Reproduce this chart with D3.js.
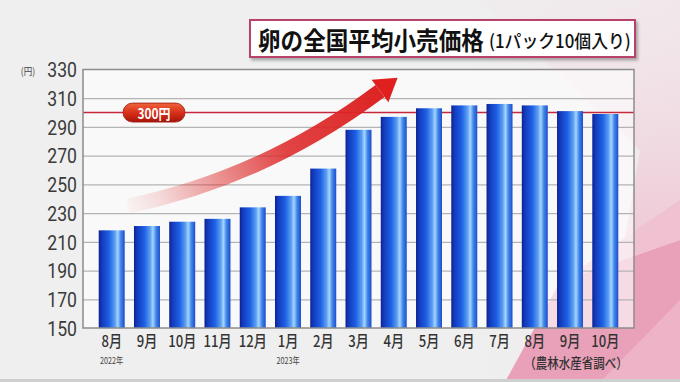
<!DOCTYPE html>
<html><head><meta charset="utf-8">
<script src="https://cdn.jsdelivr.net/npm/d3@7"></script>
<style>
html,body{margin:0;padding:0;background:#eeeeee;}
svg{display:block;}
</style></head>
<body>
<svg id="chart" width="680" height="382"></svg>
<script>
// ---- data ----
const categories = ["8月","9月","10月","11月","12月","1月","2月","3月","4月","5月","6月","7月","8月","9月","10月"];
const values = [218,221,224,226,234,242,261,288,297,303,305,306,305,301,299];
const yTicks = [150,170,190,210,230,250,270,290,310,330];
const yearIdx = [0,5];
const yearText = ["2022年","2023年"];
const refValue = 300;
const refLabel = "300円";
const titleMain = "卵の全国平均小売価格";
const titleSub = "(1パック10個入り)";
const unitLabel = "(円)";
const sourceLabel = "（農林水産省調べ）";

const W = 680, H = 382;
const L = 83, R = 634, T = 69.5, B = 328;
const svg = d3.select("#chart");
const defs = svg.append("defs");

function condense(sel, f){
  sel.each(function(){
    const w = this.getComputedTextLength();
    this.setAttribute("textLength", w*f);
    this.setAttribute("lengthAdjust","spacingAndGlyphs");
  });
}
// squeeze a text (placed at 0,0 inside a group) to a target width via transform
function squeezeText(x0, yc, target, size, weight, str){
  const g = svg.append("g");
  const t = g.append("text").attr("x",0).attr("y",0).attr("dominant-baseline","central")
    .attr("font-family","'Noto Sans CJK JP', sans-serif").attr("font-weight",weight)
    .attr("font-size",size).attr("fill","#111").text(str);
  const w = t.node().getComputedTextLength();
  g.attr("transform",`translate(${x0},${yc}) scale(${target/w},1)`);
  return g;
}

// ---- background ----
const bgG = defs.append("linearGradient").attr("id","bgG").attr("x1",0).attr("y1",0).attr("x2",1).attr("y2",0);
bgG.append("stop").attr("offset","0").attr("stop-color","#efefef");
bgG.append("stop").attr("offset","0.7").attr("stop-color","#efefef");
bgG.append("stop").attr("offset","1").attr("stop-color","#f1e8eb");
svg.append("rect").attr("width",W).attr("height",H).attr("fill","url(#bgG)");

const pinkV = defs.append("linearGradient").attr("id","pinkV").attr("x1",0).attr("y1",0).attr("x2",0).attr("y2",1);
pinkV.append("stop").attr("offset","0").attr("stop-color","#f2e6ea").attr("stop-opacity",0.3);
pinkV.append("stop").attr("offset","0.45").attr("stop-color","#efcad7").attr("stop-opacity",0.8);
pinkV.append("stop").attr("offset","1").attr("stop-color","#e99ab4");
svg.append("polygon").attr("points","480,0 680,0 680,382 600,382 640,150").attr("fill","url(#pinkV)").attr("opacity",0.8);
svg.append("polygon").attr("points","505,382 560,282 680,240 680,382").attr("fill","#e9a0b9");
svg.append("polygon").attr("points","560,282 680,200 680,240").attr("fill","#f0c2d1");
svg.append("polygon").attr("points","600,382 680,300 680,382").attr("fill","#eeb3c6");
svg.append("rect").attr("x",0).attr("y",379).attr("width",W).attr("height",3).attr("fill","#cfcfcf");

// ---- scales ----
const x = d3.scaleBand().domain(d3.range(categories.length)).range([L,R]).paddingInner(0.263).paddingOuter(0.446);
const y = d3.scaleLinear().domain([150,330]).range([B,T]);

// plot background
svg.append("rect").attr("x",L).attr("y",T).attr("width",R-L).attr("height",B-T).attr("fill","#ffffff").attr("opacity",0.62);

// gridlines
const grid = svg.append("g").attr("transform",`translate(${L},0)`)
  .call(d3.axisLeft(y).tickValues(yTicks.slice(1,-1)).tickSize(-(R-L)).tickFormat(""));
grid.select(".domain").remove();
grid.selectAll("line").attr("stroke","#b4b4b4").attr("stroke-width",1.3);

// reference line
svg.append("line").attr("x1",L).attr("x2",R).attr("y1",y(refValue)).attr("y2",y(refValue))
  .attr("stroke","#c8283c").attr("stroke-width",1.5);

// ---- bars ----
const barG = defs.append("linearGradient").attr("id","barG").attr("x1",0).attr("y1",0).attr("x2",1).attr("y2",0);
[["0","#0c2090"],["0.1","#1238b8"],["0.4","#1e60e4"],["0.62","#5a9ef2"],["0.73","#a6d4ff"],["0.85","#3f86ea"],["1","#1d4ccc"]]
  .forEach(s=>barG.append("stop").attr("offset",s[0]).attr("stop-color",s[1]));
svg.append("g").selectAll("rect").data(values).join("rect")
  .attr("x",(d,i)=>x(i)).attr("width",x.bandwidth())
  .attr("y",d=>y(d)).attr("height",d=>y(150)-y(d))
  .attr("fill","url(#barG)");

// ---- arrow ----
const arrG = defs.append("linearGradient").attr("id","arrG").attr("gradientUnits","userSpaceOnUse")
  .attr("x1",128).attr("y1",205).attr("x2",380).attr("y2",91);
[["0",0.03],["0.12",0.15],["0.35",0.5],["0.6",0.85],["1",1]].forEach(s=>
  arrG.append("stop").attr("offset",s[0]).attr("stop-color","#dd2424").attr("stop-opacity",s[1]));
svg.append("path").attr("d","M128,206 Q264.4,177.7 380,91")
  .attr("fill","none").attr("stroke","url(#arrG)").attr("stroke-width",15);
svg.append("polygon").attr("points","371.6,79.8 397.6,77.8 388.4,102.2").attr("fill","#e01f1f");

// plot border
svg.append("rect").attr("x",L).attr("y",T).attr("width",R-L).attr("height",B-T)
  .attr("fill","none").attr("stroke","#8c8c8c").attr("stroke-width",1.5);

// ---- reference label pill ----
const pillG = defs.append("linearGradient").attr("id","pillG").attr("x1",0).attr("y1",0).attr("x2",0).attr("y2",1);
pillG.append("stop").attr("offset","0").attr("stop-color","#f0643c");
pillG.append("stop").attr("offset","0.5").attr("stop-color","#d8301a");
pillG.append("stop").attr("offset","1").attr("stop-color","#a81408");
const py = y(refValue);
svg.append("rect").attr("x",123).attr("y",py-9.5).attr("width",62).attr("height",19).attr("rx",9.5)
  .attr("fill","url(#pillG)").attr("stroke","#9a1a10").attr("stroke-width",0.8);
svg.append("text").attr("x",154).attr("y",py+0.5).attr("text-anchor","middle").attr("dominant-baseline","central")
  .attr("font-family","'Noto Sans CJK JP', sans-serif").attr("font-weight",700).attr("font-size",14)
  .attr("fill","#ffffff").text(refLabel).call(condense,0.85);

// ---- axes ----
const yAx = svg.append("g").attr("transform",`translate(${L},0)`)
  .call(d3.axisLeft(y).tickValues(yTicks).tickSize(0).tickPadding(6));
yAx.select(".domain").remove();
yAx.selectAll("text").attr("font-family","Roboto, sans-serif").attr("font-size",20).attr("fill","#3a3a3a")
  .attr("dy","0.36em").call(condense,0.88);

svg.append("text").attr("x",28).attr("y",y(330)+0.5).attr("text-anchor","middle").attr("dominant-baseline","central")
  .attr("font-family","'Noto Sans CJK JP', sans-serif").attr("font-size",10).attr("fill","#444").text(unitLabel).call(condense,0.85);

const xAx = svg.append("g").attr("transform",`translate(0,${B})`)
  .call(d3.axisBottom(x).tickFormat(i=>categories[i]).tickSize(0).tickPadding(8));
xAx.select(".domain").remove();
xAx.selectAll("text").attr("font-family","'Noto Sans CJK JP', sans-serif").attr("font-weight",500)
  .attr("font-size",16).attr("fill","#333").call(condense,0.82);

svg.append("g").selectAll("text").data(yearIdx).join("text")
  .attr("x",i=>x(i)+x.bandwidth()/2).attr("y",360).attr("text-anchor","middle").attr("dominant-baseline","central")
  .attr("font-family","'Noto Sans CJK JP', sans-serif").attr("font-size",9).attr("fill","#444")
  .text((d,k)=>yearText[k]).call(condense,0.8);

svg.append("text").attr("x",576).attr("y",362).attr("text-anchor","middle").attr("dominant-baseline","central")
  .attr("font-family","'Noto Sans CJK JP', sans-serif").attr("font-weight",500).attr("font-size",14).attr("fill","#333")
  .text(sourceLabel).call(condense,0.82);

// ---- title box ----
const sh = defs.append("filter").attr("id","sh").attr("x","-10%").attr("y","-30%").attr("width","120%").attr("height","160%");
sh.append("feDropShadow").attr("dx",2).attr("dy",2.5).attr("stdDeviation",1.5).attr("flood-color","#000").attr("flood-opacity",0.3);
svg.append("rect").attr("x",250).attr("y",20).attr("width",385).attr("height",37)
  .attr("fill","#ffffff").attr("stroke","#b8436a").attr("stroke-width",2).attr("filter","url(#sh)");
squeezeText(258, 39, 226, 25, 700, titleMain);
squeezeText(489, 40, 142, 18, 500, titleSub);
</script>
</body></html>
